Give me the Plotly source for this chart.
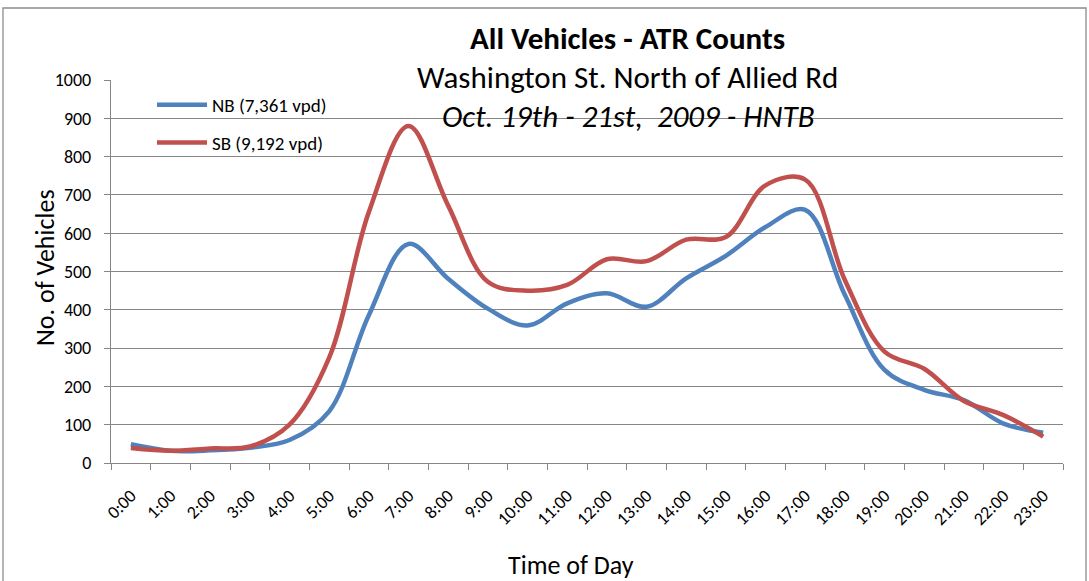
import plotly.graph_objects as go

hours = [f"{h}:00" for h in range(24)]
nb_values = [49, 32, 33, 40, 60, 135, 386, 572, 481, 403, 359, 417,
             443, 408, 482, 541, 616, 661, 439, 243, 191, 164, 103, 79]
sb_values = [39, 32, 38, 43, 100, 275, 655, 880, 672, 473, 450, 465,
             532, 527, 583, 590, 725, 740, 478, 291, 246, 162, 125, 69]
nb_name = "NB (7,361 vpd)"
sb_name = "SB (9,192 vpd)"
y_ticks = [0, 100, 200, 300, 400, 500, 600, 700, 800, 900, 1000]

FONT = "Carlito, Lato, sans-serif"
GRID = "#868686"

fig = go.Figure()
fig.add_trace(go.Scatter(x=hours, y=nb_values, name=nb_name, mode="lines",
                         legendgroup="nb",
                         line=dict(color="#4F81BD", width=4.5, shape="spline", smoothing=1)))
fig.add_trace(go.Scatter(x=hours, y=sb_values, name=sb_name, mode="lines",
                         legendgroup="sb",
                         line=dict(color="#C0504D", width=4.5, shape="spline", smoothing=1)))

L, R, T, B = 111, 26, 80, 118
W, H = 1089, 581
pw = W - L - R
ph = H - T - B

def px(x):
    return (x - L) / pw

def py(y):
    return (H - B - y) / ph

fig.update_layout(
    width=W, height=H,
    margin=dict(l=L, r=R, t=T, b=B),
    paper_bgcolor="white", plot_bgcolor="white",
    font=dict(family=FONT, color="black"),
    showlegend=True,
    legend=dict(x=px(152), y=py(86), xanchor="left", yanchor="top",
                bgcolor="rgba(0,0,0,0)", font=dict(size=19, family=FONT),
                tracegroupgap=10, traceorder="grouped", itemwidth=50),
    xaxis=dict(type="category", range=[-0.5, 23.5], tickangle=-45,
               tickfont=dict(size=18, family=FONT), ticks="outside",
               ticklen=6, tickcolor=GRID, tickson="boundaries",
               ticklabelstandoff=14,
               showline=True, linecolor=GRID, linewidth=1.3, showgrid=False),
    yaxis=dict(range=[0, 1000], tickvals=y_ticks, tickfont=dict(size=18, family=FONT),
               ticks="outside", ticklen=6, tickcolor=GRID, showline=True,
               ticklabelstandoff=9,
               linecolor=GRID, linewidth=1.3, showgrid=True, gridcolor=GRID,
               gridwidth=1.4, zeroline=False),
)

annotations = [
    dict(text="<b>All Vehicles - ATR Counts</b>", x=px(627), y=py(38), size=31),
    dict(text="Washington St. North of Allied Rd", x=px(627), y=py(77), size=31),
    dict(text="<i>Oct. 19th - 21st,  2009 - HNTB</i>", x=px(628), y=py(116), size=31),
    dict(text="Time of Day", x=px(571), y=py(565), size=26),
]
for a in annotations:
    fig.add_annotation(text=a["text"], x=a["x"], y=a["y"], xref="paper", yref="paper",
                       xanchor="center", yanchor="middle", showarrow=False,
                       font=dict(size=a["size"], family=FONT, color="black"))
fig.add_annotation(text="No. of Vehicles", x=px(45), y=py(268), xref="paper", yref="paper",
                   xanchor="center", yanchor="middle", showarrow=False, textangle=-90,
                   font=dict(size=26, family=FONT, color="black"))

fig.add_shape(type="rect", xref="paper", yref="paper",
              x0=px(3), x1=px(1086), y0=py(595), y1=py(8),
              line=dict(color="#8C8C8C", width=1.3), fillcolor="rgba(0,0,0,0)", layer="below")

fig.write_html("out.html", config={"displayModeBar": False},
               post_script="document.body.style.margin='0';")
